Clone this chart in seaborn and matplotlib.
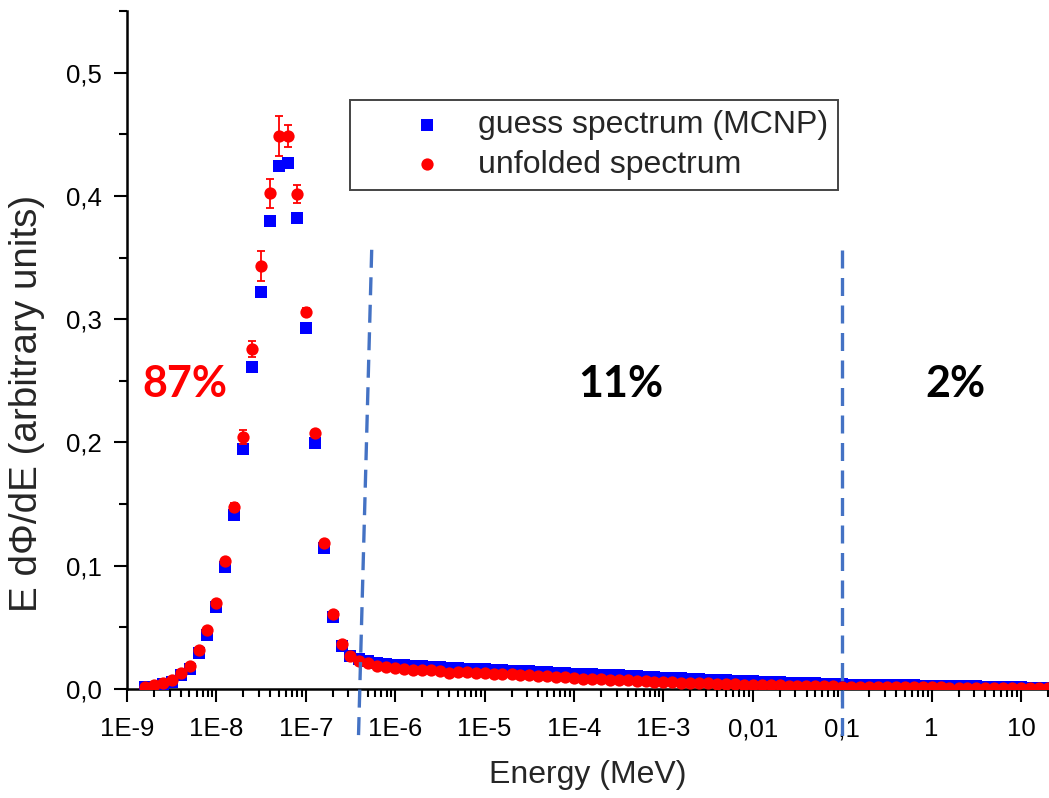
import numpy as np
import pandas as pd
import matplotlib
matplotlib.use("Agg")
import matplotlib.pyplot as plt
import seaborn as sns
from matplotlib.ticker import (FixedLocator, FixedFormatter, LogLocator,
                               MultipleLocator, NullFormatter)

# ---------------- data ----------------
energy_mev = [
    1.58e-9, 2.00e-9, 2.51e-9, 3.16e-9, 3.98e-9, 5.01e-9, 6.31e-9, 7.94e-9,
    1.00e-8, 1.26e-8, 1.58e-8, 2.00e-8, 2.51e-8, 3.16e-8, 3.98e-8, 5.01e-8, 6.31e-8, 7.94e-8,
    1.00e-7, 1.26e-7, 1.58e-7, 2.00e-7, 2.51e-7, 3.16e-7, 3.98e-7, 5.01e-7, 6.31e-7, 7.94e-7,
    1.00e-6, 1.26e-6, 1.58e-6, 2.00e-6, 2.51e-6, 3.16e-6, 3.98e-6, 5.01e-6, 6.31e-6, 7.94e-6,
    1.00e-5, 1.26e-5, 1.58e-5, 2.00e-5, 2.51e-5, 3.16e-5, 3.98e-5, 5.01e-5, 6.31e-5, 7.94e-5,
    1.00e-4, 1.26e-4, 1.58e-4, 2.00e-4, 2.51e-4, 3.16e-4, 3.98e-4, 5.01e-4, 6.31e-4, 7.94e-4,
    1.00e-3, 1.26e-3, 1.58e-3, 2.00e-3, 2.51e-3, 3.16e-3, 3.98e-3, 5.01e-3, 6.31e-3, 7.94e-3,
    1.00e-2, 1.26e-2, 1.58e-2, 2.00e-2, 2.51e-2, 3.16e-2, 3.98e-2, 5.01e-2, 6.31e-2, 7.94e-2,
    1.00e-1, 1.26e-1, 1.58e-1, 2.00e-1, 2.51e-1, 3.16e-1, 3.98e-1, 5.01e-1, 6.31e-1, 7.94e-1,
    1.00, 1.26, 1.58, 2.00, 2.51, 3.16, 3.98, 5.01, 6.31, 7.94,
    10.0, 12.6, 15.8, 20.0,
]

guess_spectrum = [
    0.0015, 0.0020, 0.0038, 0.0060, 0.0110, 0.0166, 0.0296, 0.0442,
    0.0667, 0.0992, 0.1410, 0.1950, 0.2612, 0.3224, 0.3797, 0.4239, 0.4265, 0.3817,
    0.2932, 0.1998, 0.1146, 0.0586, 0.0345, 0.0270, 0.0240, 0.0228, 0.0213, 0.0203,
    0.0198, 0.0192, 0.0186, 0.0183, 0.0180, 0.0176, 0.0171, 0.0168, 0.0166, 0.0164,
    0.0162, 0.0158, 0.0154, 0.0150, 0.0147, 0.0143, 0.0139, 0.0135, 0.0131, 0.0127,
    0.0123, 0.0120, 0.0118, 0.0115, 0.0112, 0.0110, 0.0106, 0.0102, 0.0099, 0.0095,
    0.0091, 0.0089, 0.0086, 0.0082, 0.0079, 0.0077, 0.0073, 0.0070, 0.0068, 0.0064,
    0.0061, 0.0059, 0.0057, 0.0055, 0.0052, 0.0049, 0.0047, 0.0045, 0.0043, 0.0041,
    0.0037, 0.0035, 0.0034, 0.0033, 0.0032, 0.0031, 0.0030, 0.0030, 0.0029, 0.0028,
    0.0027, 0.0027, 0.0026, 0.0026, 0.0025, 0.0023, 0.0020, 0.0018, 0.0016, 0.0015,
    0.0013, 0.0012, 0.0011, 0.0010,
]

unfolded_spectrum = [
    0.0020, 0.0030, 0.0045, 0.0070, 0.0126, 0.0185, 0.0315, 0.0477,
    0.0700, 0.1040, 0.1476, 0.2044, 0.2761, 0.3432, 0.4020, 0.4487, 0.4487, 0.4014,
    0.3062, 0.2074, 0.1181, 0.0605, 0.0361, 0.0270, 0.0225, 0.0207, 0.0190, 0.0177,
    0.0172, 0.0164, 0.0152, 0.0153, 0.0152, 0.0144, 0.0133, 0.0134, 0.0135, 0.0131,
    0.0126, 0.0123, 0.0119, 0.0118, 0.0113, 0.0110, 0.0109, 0.0104, 0.0100, 0.0097,
    0.0088, 0.0085, 0.0082, 0.0078, 0.0076, 0.0072, 0.0070, 0.0066, 0.0063, 0.0060,
    0.0056, 0.0054, 0.0051, 0.0049, 0.0047, 0.0045, 0.0042, 0.0040, 0.0038, 0.0036,
    0.0033, 0.0032, 0.0030, 0.0029, 0.0027, 0.0025, 0.0024, 0.0023, 0.0022, 0.0021,
    0.0020, 0.0020, 0.0019, 0.0018, 0.0018, 0.0017, 0.0016, 0.0016, 0.0015, 0.0014,
    0.0013, 0.0013, 0.0012, 0.0012, 0.0011, 0.0011, 0.0010, 0.0010, 0.0009, 0.0009,
    0.0008, 0.0008, 0.0007, 0.0007,
]

unfolded_error = [
    0.001, 0.001, 0.001, 0.001, 0.001, 0.001, 0.001, 0.001,
    0.001, 0.001, 0.003, 0.006, 0.0065, 0.012, 0.0118, 0.016, 0.009, 0.0073,
    0.003, 0.003, 0.002, 0.001, 0.001, 0.001, 0.001, 0.001, 0.001, 0.001,
    0.001, 0.001, 0.001, 0.001, 0.001, 0.001, 0.001, 0.001, 0.001, 0.001,
    0.001, 0.001, 0.001, 0.001, 0.001, 0.001, 0.001, 0.001, 0.001, 0.001,
    0.001, 0.001, 0.001, 0.001, 0.001, 0.001, 0.001, 0.001, 0.001, 0.001,
    0.001, 0.001, 0.001, 0.001, 0.001, 0.001, 0.001, 0.001, 0.001, 0.001,
    0.001, 0.001, 0.001, 0.001, 0.001, 0.001, 0.001, 0.001, 0.001, 0.001,
    0.001, 0.001, 0.001, 0.001, 0.001, 0.001, 0.001, 0.001, 0.001, 0.001,
    0.001, 0.001, 0.001, 0.001, 0.001, 0.001, 0.001, 0.001, 0.001, 0.001,
    0.001, 0.001, 0.001, 0.001,
]

series_labels = ["guess spectrum (MCNP)", "unfolded spectrum"]

x_tick_values = [1e-9, 1e-8, 1e-7, 1e-6, 1e-5, 1e-4, 1e-3, 1e-2, 1e-1, 1, 10]
x_tick_labels = ["1E-9", "1E-8", "1E-7", "1E-6", "1E-5", "1E-4", "1E-3",
                 "0,01", "0,1", "1", "10"]
y_tick_values = [0.0, 0.1, 0.2, 0.3, 0.4, 0.5]
y_tick_labels = ["0,0", "0,1", "0,2", "0,3", "0,4", "0,5"]

region_labels = ["87%", "11%", "2%"]
region_colors = ["#FF0000", "#000000", "#000000"]

# boundary annotation lines (energy at top end, energy at bottom end)
boundary_top_energy = [5.46e-7, 0.1]
boundary_bottom_energy = [3.87e-7, 0.1]

assert len(energy_mev) == len(guess_spectrum) == len(unfolded_spectrum) == len(unfolded_error)

# ---------------- styling ----------------
sns.set_style("ticks")
plt.rcParams["font.family"] = ["Liberation Sans", "DejaVu Sans"]

W, H = 1049, 798
fig = plt.figure(figsize=(W / 100, H / 100), dpi=100)
ax = fig.add_axes([127 / W, 109 / H, 922 / W, 678 / H])

df = pd.DataFrame({
    "energy": energy_mev,
    "guess": guess_spectrum,
    "unfolded": unfolded_spectrum,
    "err": unfolded_error,
})

sns.scatterplot(data=df, x="energy", y="guess", marker="s", s=68,
                color="#0000FF", linewidth=0, ax=ax, label=series_labels[0],
                zorder=3)
ax.errorbar(df["energy"], df["unfolded"], yerr=df["err"], fmt="none",
            ecolor="#FF0000", elinewidth=1.3, capsize=2.8, capthick=1.3,
            zorder=4)
sns.scatterplot(data=df, x="energy", y="unfolded", marker="o", s=78,
                color="#FF0000", linewidth=0, ax=ax, label=series_labels[1],
                zorder=5)

ax.set_xscale("log")
ax.set_xlim(1e-9, 10 ** (-9 + 922 / 89.4))
ax.set_ylim(0, 0.55)

ax.xaxis.set_major_locator(FixedLocator(x_tick_values))
ax.xaxis.set_major_formatter(FixedFormatter(x_tick_labels))
ax.xaxis.set_minor_locator(LogLocator(base=10, subs=np.arange(2, 10), numticks=30))
ax.xaxis.set_minor_formatter(NullFormatter())
ax.yaxis.set_major_locator(FixedLocator(y_tick_values))
ax.yaxis.set_major_formatter(FixedFormatter(y_tick_labels))
ax.yaxis.set_minor_locator(MultipleLocator(0.05))

ax.tick_params(which="major", direction="out", length=9.4, width=1.5,
               labelsize=18.5, color="black", labelcolor="black")
ax.tick_params(which="minor", direction="out", length=5.8, width=1.5,
               color="black")
ax.tick_params(axis="x", which="major", pad=11)
ax.tick_params(axis="y", which="major", pad=9)

sns.despine(ax=ax)
for side in ["left", "bottom"]:
    ax.spines[side].set_linewidth(1.8)
    ax.spines[side].set_color("black")

ax.set_xlabel("Energy (MeV)", fontsize=23)
ax.xaxis.set_label_coords(0.5, -0.1268)
ax.xaxis.label.set_verticalalignment("center")
ax.set_ylabel("E dΦ/dE (arbitrary units)", fontsize=27.8)
ax.yaxis.set_label_coords(-0.108, 0.4218)
ax.yaxis.label.set_verticalalignment("center")

# boundary dashed lines
for e_top, e_bot in zip(boundary_top_energy, boundary_bottom_energy):
    ax.plot([e_top, e_bot], [0.3563, -0.043], color="#4472C4", lw=2.4,
            ls=(0, (5.4, 2.85)), clip_on=False, zorder=6)

# region percentages
region_x_px = [184.5, 621, 955]
for lab, col, xp in zip(region_labels, region_colors, region_x_px):
    fig.text(xp / W, 1 - 397 / H, lab, color=col, fontsize=31,
             fontweight="bold", family=["Lato", "DejaVu Sans"],
             ha="center", va="baseline")

leg = ax.legend(loc="upper left", bbox_to_anchor=(350 / W, 1 - 100 / H),
                bbox_transform=fig.transFigure, fontsize=23, frameon=True,
                fancybox=False, edgecolor="#444444", framealpha=1,
                borderpad=0.31, handlelength=4.2, handletextpad=-0.5,
                labelspacing=0.31, borderaxespad=0)
leg.get_frame().set_linewidth(1.4)

fig.savefig("out.png", dpi=100)
